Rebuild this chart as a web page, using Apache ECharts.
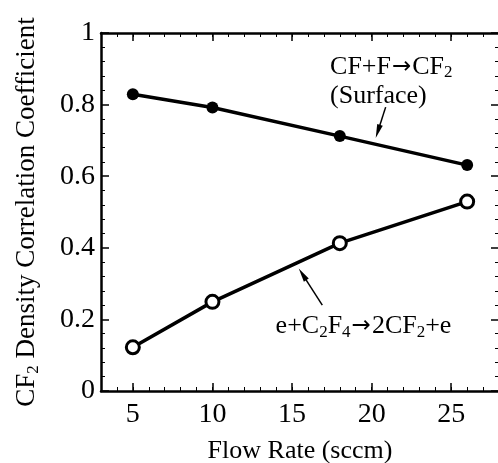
<!DOCTYPE html>
<html>
<head>
<meta charset="utf-8">
<script src="https://cdn.jsdelivr.net/npm/echarts@6/dist/echarts.min.js"></script>
<style>
  html, body { margin: 0; padding: 0; background: #fff; }
  #chart { width: 498px; height: 463px; }
</style>
</head>
<body>
<div id="chart"></div>
<script>
// data
var flowRate = [5, 10, 18, 26];
var surfaceCoef = [0.829, 0.792, 0.712, 0.631];   // CF+F -> CF2 (filled)
var electronCoef = [0.122, 0.249, 0.413, 0.529];  // e+C2F4 -> 2CF2+e (open)
var xMajorTicks = [5, 10, 15, 20, 25];

var FONT = 'Liberation Serif';
var subStyle = { fontSize: 17, lineHeight: 17, verticalAlign: 'bottom', fontFamily: FONT, color: '#000' };
var arrowStyle = { fontSize: 23, lineHeight: 29, fontFamily: 'DejaVu Sans', color: '#000', padding: [0, 1, 0, 1] };
var ARROW = 'path://M5,0L10,24L0,24Z';

function toPairs(xs, ys) {
  return xs.map(function (x, i) { return [x, ys[i]]; });
}

var chart = echarts.init(document.getElementById('chart'));

// main + mirrored axes; extra x axes carry the 1-unit minor ticks
var xBase = {
  type: 'value', min: 3, max: 28,
  axisLine: { show: true, onZero: false, lineStyle: { color: '#000', width: 2.5 } },
  axisTick: { show: true, inside: true, length: 8, customValues: xMajorTicks, lineStyle: { color: '#000', width: 1.5 } },
  axisLabel: { show: false },
  splitLine: { show: false }
};
var xMinor = {
  type: 'value', min: 3, max: 28, interval: 1,
  axisLine: { show: false, onZero: false },
  axisTick: { show: true, inside: true, length: 4, lineStyle: { color: '#000', width: 1 } },
  axisLabel: { show: false },
  splitLine: { show: false }
};
var yBase = {
  type: 'value', min: 0, max: 1, interval: 0.2,
  axisLine: { show: true, onZero: false, lineStyle: { color: '#000', width: 2.5 } },
  axisTick: { show: true, inside: true, length: 8, lineStyle: { color: '#000', width: 1.5 } },
  minorTick: { show: true, splitNumber: 5, length: 4, lineStyle: { color: '#000', width: 1 } },
  axisLabel: { show: false },
  splitLine: { show: false }
};

var option = {
  backgroundColor: '#fff',
  animation: false,
  textStyle: { fontFamily: FONT, color: '#000' },
  grid: { left: 101, top: 33, width: 398, bottom: 72, containLabel: false, outerBoundsMode: 'none' },
  xAxis: [
    Object.assign({}, xBase, {
      position: 'bottom',
      name: 'Flow Rate (sccm)',
      nameLocation: 'middle',
      nameGap: 47,
      nameTextStyle: { fontFamily: FONT, fontSize: 26, color: '#000' },
      axisLabel: { show: true, customValues: xMajorTicks, margin: 10, fontFamily: FONT, fontSize: 28, color: '#000' }
    }),
    Object.assign({}, xBase, { position: 'top' }),
    Object.assign({}, xMinor, { position: 'bottom' }),
    Object.assign({}, xMinor, { position: 'top' })
  ],
  yAxis: [
    Object.assign({}, yBase, {
      position: 'left',
      name: 'CF{s|2} Density Correlation Coefficient',
      nameLocation: 'middle',
      nameGap: 59,
      nameTextStyle: { fontFamily: FONT, fontSize: 27, lineHeight: 30, color: '#000', rich: { s: subStyle } },
      axisLabel: { show: true, margin: 6, fontFamily: FONT, fontSize: 28, color: '#000' }
    }),
    Object.assign({}, yBase, { position: 'right' })
  ],
  series: [
    {
      name: 'CF+F→CF2 (Surface)',
      type: 'line',
      data: toPairs(flowRate, surfaceCoef),
      symbol: 'circle',
      symbolSize: 12,
      lineStyle: { color: '#000', width: 3.5 },
      itemStyle: { color: '#000' },
      markLine: {
        silent: true,
        symbol: ['none', ARROW],
        symbolSize: 14,
        symbolKeepAspect: true,
        label: { show: false },
        lineStyle: { color: '#000', width: 1.5, type: 'solid' },
        data: [[{ coord: [20.88, 0.793] }, { coord: [20.39, 0.725] }]]
      },
      markPoint: {
        silent: true,
        symbol: 'circle',
        symbolSize: 1,
        itemStyle: { color: 'rgba(0,0,0,0)' },
        label: {
          show: true,
          position: [0, 0],
          align: 'left',
          verticalAlign: 'top',
          fontFamily: FONT, fontSize: 26, lineHeight: 29, color: '#000',
          formatter: 'CF+F{a|→}CF{s|2}\n(Surface)',
          rich: { s: subStyle, a: arrowStyle }
        },
        data: [{ coord: [17.42, 0.945] }]
      }
    },
    {
      name: 'e+C2F4→2CF2+e',
      type: 'line',
      data: toPairs(flowRate, electronCoef),
      symbol: 'circle',
      symbolSize: 13,
      lineStyle: { color: '#000', width: 3.5 },
      itemStyle: { color: '#fff', borderColor: '#000', borderWidth: 3 },
      markLine: {
        silent: true,
        symbol: ['none', ARROW],
        symbolSize: 14,
        symbolKeepAspect: true,
        label: { show: false },
        lineStyle: { color: '#000', width: 1.5, type: 'solid' },
        data: [[{ coord: [16.9, 0.24] }, { coord: [15.66, 0.326] }]]
      },
      markPoint: {
        silent: true,
        symbol: 'circle',
        symbolSize: 1,
        itemStyle: { color: 'rgba(0,0,0,0)' },
        label: {
          show: true,
          position: [0, 0],
          align: 'left',
          verticalAlign: 'middle',
          fontFamily: FONT, fontSize: 26, lineHeight: 29, color: '#000',
          formatter: 'e+C{s|2}F{s|4}{a|→}2CF{s|2}+e',
          rich: { s: subStyle, a: arrowStyle }
        },
        data: [{ coord: [14.0, 0.18] }]
      }
    }
  ]
};

chart.setOption(option);
</script>
</body>
</html>
